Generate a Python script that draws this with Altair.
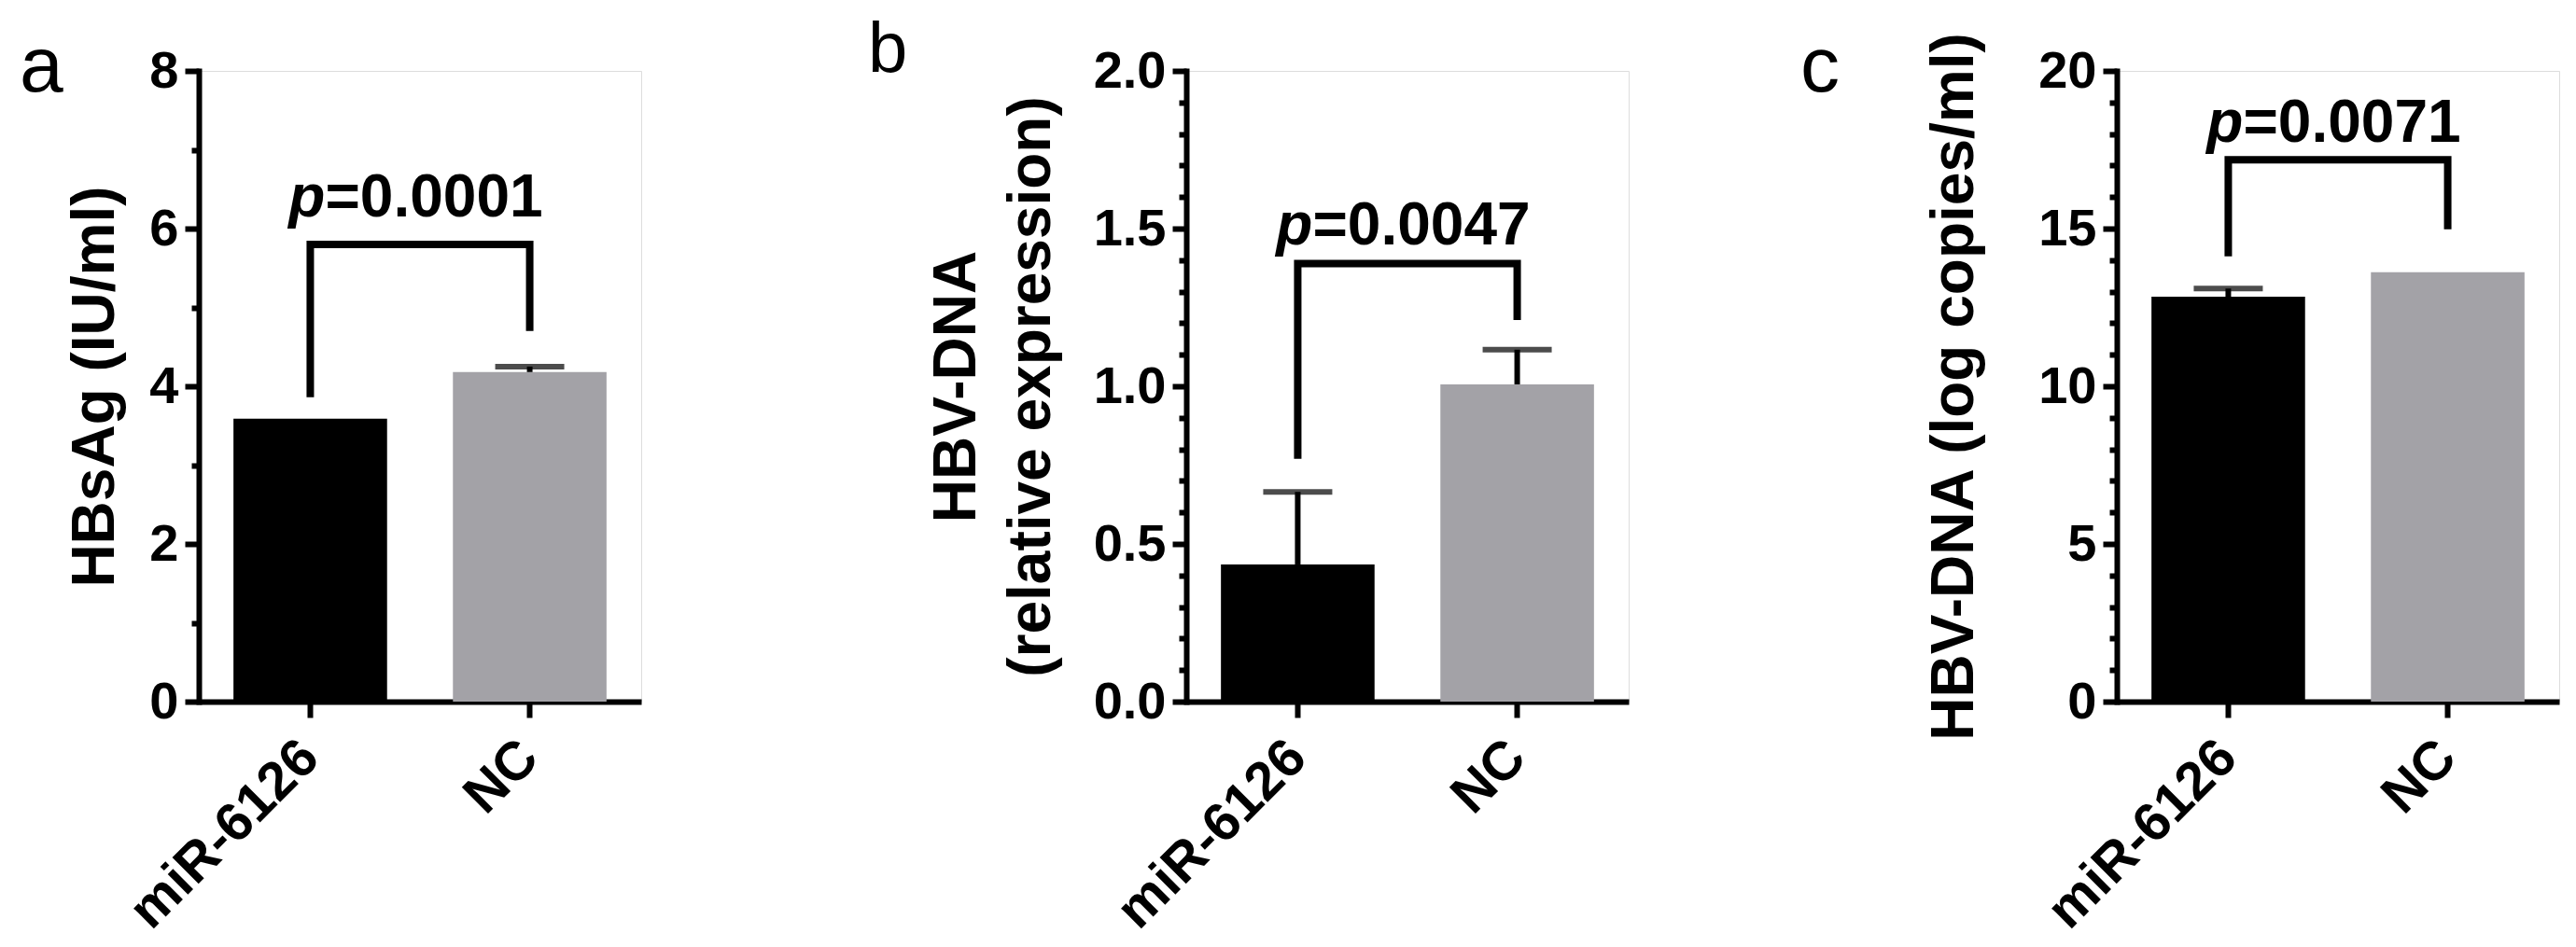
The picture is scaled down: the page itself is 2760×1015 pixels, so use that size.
import altair as alt
import pandas as pd

# ---------------- data ----------------
groups = ["miR-6126", "NC"]
bar_colors = ["#000000", "#A3A2A7"]

# panel a: HBsAg (IU/ml)
a_mean = [3.59, 4.18]
a_err = [0.0, 0.07]
a_bracket = [3.86, 5.80, 5.80, 4.70]
a_p_y = 6.15
a_p = "=0.0001"

# panel b: HBV-DNA relative expression
b_mean = [0.435, 1.006]
b_err = [0.23, 0.11]
b_bracket = [0.77, 1.389, 1.389, 1.21]
b_p_y = 1.45
b_p = "=0.0047"

# panel c: HBV-DNA (log copies/ml)
c_mean = [12.84, 13.62]
c_err = [0.26, 0.0]
c_bracket = [14.12, 17.18, 17.18, 14.98]
c_p_y = 17.76
c_p = "=0.0071"

a_ticks = list(range(0, 9))
b_ticks = [round(k * 0.1, 1) for k in range(0, 21)]
c_ticks = list(range(0, 21))

# ---------------- styling ----------------
W, H = 474, 676
FONT = "Liberation Sans"
BLACK = "#000000"


def panel(means, errs, bracket, p_y, p_txt, ymax, ticks, major_test, fmt,
          title, title_x, letter, letter_x, letter_y, letter_size):
    bars = pd.DataFrame({"g": groups, "v": means, "e": errs})
    bars["top"] = bars["v"] + bars["e"]
    br = pd.DataFrame({"g": [groups[0], groups[0], groups[1], groups[1]],
                       "v": bracket, "o": [0, 1, 2, 3]})
    ptxt = pd.DataFrame({"g": [groups[0]], "v": [p_y], "t": [p_txt]})
    lett = pd.DataFrame({"t": [letter]})

    xs = alt.Scale(domain=groups, paddingInner=0.3, paddingOuter=0.158)
    ys = alt.Scale(domain=[0, ymax], nice=False, zero=True)

    xaxis = alt.Axis(
        title=None, labelAngle=315, labelAlign="right", labelBaseline="middle",
        labelFont=FONT, labelFontWeight="bold", labelFontSize=58,
        labelColor=BLACK, labelPadding=34, labelLimit=600, tickSize=17,
        tickWidth=6, tickColor=BLACK, domainColor=BLACK, domainWidth=6,
        grid=False,
    )
    yaxis = alt.Axis(
        title=title, values=ticks, format=fmt,
        labelExpr="(" + major_test + ") ? datum.label : ''",
        labelFont=FONT, labelFontWeight="bold", labelFontSize=56,
        labelColor=BLACK, labelPadding=7,
        tickSize={"condition": {"test": major_test, "value": 15}, "value": 8},
        tickWidth=6, tickColor=BLACK, domainColor=BLACK, domainWidth=6,
        domainCap="square", grid=False,
        titleFont=FONT, titleFontWeight="bold", titleFontSize=64,
        titleColor=BLACK, titleAngle=270, titleAlign="center",
        titleBaseline="alphabetic", titleX=title_x, titleY=H / 2,
        titleLineHeight=80,
    )

    X = alt.X("g:N", scale=xs, sort=groups, axis=xaxis)

    def Y(field):
        return alt.Y(field + ":Q", scale=ys, axis=yaxis)

    bar = alt.Chart(bars).mark_bar().encode(
        x=X, y=Y("v"),
        color=alt.Color("g:N", scale=alt.Scale(domain=groups, range=bar_colors),
                        legend=None),
    )
    stem = alt.Chart(bars).transform_filter("datum.e > 0").mark_rule(
        color=BLACK, strokeWidth=6
    ).encode(x=X, y=Y("v"), y2="top:Q")
    cap = alt.Chart(bars).transform_filter("datum.e > 0").mark_tick(
        color=BLACK, thickness=6, size=74, orient="horizontal"
    ).encode(x=X, y=Y("top"))
    brk = alt.Chart(br).mark_line(
        color=BLACK, strokeWidth=8, strokeJoin="miter", strokeCap="butt"
    ).encode(x=X, y=Y("v"), order="o:Q")
    p_it = alt.Chart(ptxt).mark_text(
        text="p", font=FONT, fontSize=64, fontWeight="bold", fontStyle="italic",
        align="right", baseline="alphabetic", dx=16, color=BLACK,
    ).encode(x=X, y=Y("v"))
    p_rest = alt.Chart(ptxt).mark_text(
        font=FONT, fontSize=64, fontWeight="bold",
        align="left", baseline="alphabetic", dx=16, color=BLACK,
    ).encode(x=X, y=Y("v"), text="t:N")
    let = alt.Chart(lett).mark_text(
        font=FONT, fontSize=letter_size, fontWeight="normal", align="left",
        baseline="alphabetic", color=BLACK,
    ).encode(x=alt.value(letter_x), y=alt.value(letter_y), text="t:N")

    return alt.layer(bar, stem, cap, brk, p_it, p_rest, let).properties(
        width=W, height=H
    )


pa = panel(a_mean, a_err, a_bracket, a_p_y, a_p, 8, a_ticks,
           "datum.value % 2 == 0", "d", "HBsAg (IU/ml)", -92, "a", -192, 22, 84)
pb = panel(b_mean, b_err, b_bracket, b_p_y, b_p, 2.0, b_ticks,
           "abs(datum.value * 2 - round(datum.value * 2)) < 0.001", ".1f",
           ["HBV-DNA", "(relative expression)"], -227, "b", -341, 1, 76)
pc = panel(c_mean, c_err, c_bracket, c_p_y, c_p, 20, c_ticks,
           "datum.value % 5 == 0", "d", "HBV-DNA (log copies/ml)", -155,
           "c", -339, 22, 84)

right = alt.hconcat(pb, pc, spacing=523, bounds="flush")
chart = alt.hconcat(pa, right, spacing=584, bounds="flush").properties(
    padding={"left": 12, "top": 7, "right": 5, "bottom": 0}
).configure_view(strokeWidth=0).configure(background="white")

chart.save("out.html", embed_options={"renderer": "svg", "actions": False})
